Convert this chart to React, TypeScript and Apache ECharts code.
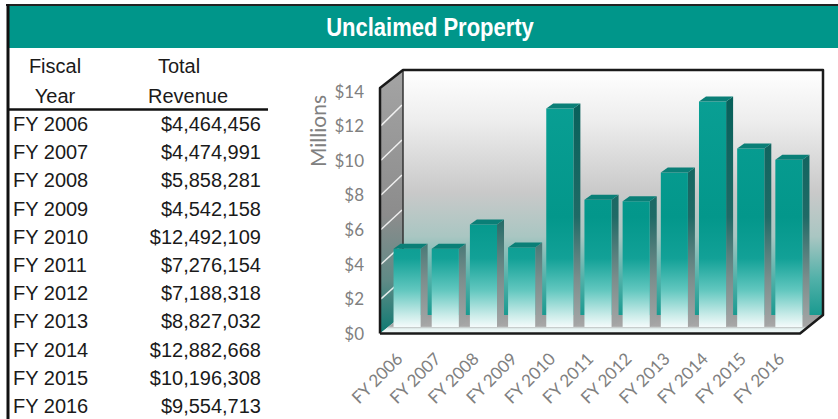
import React, { useEffect, useRef } from 'react';
import * as echarts from 'echarts';

// ---- data ----
const categories = ['FY 2006', 'FY 2007', 'FY 2008', 'FY 2009', 'FY 2010', 'FY 2011', 'FY 2012', 'FY 2013', 'FY 2014', 'FY 2015', 'FY 2016'];
const revenue = [4464456, 4474991, 5858281, 4542158, 12492109, 7276154, 7188318, 8827032, 12882668, 10196308, 9554713];
const yMin = 0;
const yMax = 14;
const yInterval = 2;
const yTickValues = [0, 2, 4, 6, 8, 10, 12, 14];
const title = 'Unclaimed Property';
const tableHeader = [['Fiscal', 'Year'], ['Total', 'Revenue']];
const yAxisName = 'Millions';

// ---- layout ----
const TEAL = '#00968a';
const FRONT = { left: 380, top: 91, width: 420, bottom: 333.5 };
const BARS = { left: 388, top: 82, width: 420, bottom: 327 };
const BACK = { left: 403, top: 70, width: 420, bottom: 315 };
const WALL_FRONT_TOP = 88;

const fmtMoney = (n: number) => '$' + n.toLocaleString('en-US');

export default function App() {
  const ref = useRef<HTMLDivElement>(null);
  useEffect(() => {
    const chart = echarts.init(ref.current!, null, { renderer: 'svg' });

    const frontGrad = {
      type: 'linear', x: 0, y: BARS.top, x2: 0, y2: BARS.bottom, global: true,
      colorStops: [
        { offset: 0, color: '#0aa095' },
        { offset: 0.55, color: '#03978b' },
        { offset: 0.72, color: '#12a197' },
        { offset: 0.85, color: '#62c7bf' },
        { offset: 0.95, color: '#c8ebe8' },
        { offset: 1, color: '#f4fbfb' },
      ],
    };
    const sideGrad = {
      type: 'linear', x: 0, y: BARS.top, x2: 0, y2: BARS.bottom, global: true,
      colorStops: [
        { offset: 0, color: '#045f59' },
        { offset: 0.55, color: '#1f6a66' },
        { offset: 0.8, color: '#7a8d8c' },
        { offset: 1, color: '#a6a6a6' },
      ],
    };

    const labelFont = { fontFamily: 'Lato', fontSize: 17, color: '#808080' };

    chart.setOption({
      animation: false,
      grid: [
        { left: FRONT.left, top: FRONT.top, width: FRONT.width, height: FRONT.bottom - FRONT.top },
        { left: BARS.left, top: BARS.top, width: BARS.width, height: BARS.bottom - BARS.top },
        {
          left: BACK.left, top: BACK.top, width: BACK.width, height: BACK.bottom - BACK.top,
          show: true, borderWidth: 0, z: 0,
          backgroundColor: {
            type: 'linear', x: 0, y: 0, x2: 0, y2: 1,
            colorStops: [
              { offset: 0, color: '#ffffff' },
              { offset: 0.2, color: '#eeeeee' },
              { offset: 0.5, color: '#c9c9c9' },
              { offset: 0.68, color: '#a9c6c2' },
              { offset: 0.85, color: '#52b1a9' },
              { offset: 1, color: '#1a9a90' },
            ],
          },
        },
      ],
      xAxis: [
        {
          gridIndex: 0, type: 'category', data: categories,
          axisLine: { show: false }, axisTick: { show: false },
          axisLabel: { ...labelFont, rotate: 45, interval: 0, margin: 22 },
        },
        { gridIndex: 1, type: 'category', data: categories, show: false },
        { gridIndex: 2, type: 'category', data: categories, show: false },
      ],
      yAxis: [
        {
          gridIndex: 0, type: 'value', min: yMin, max: yMax, interval: yInterval,
          axisLine: { show: false }, axisTick: { show: false }, splitLine: { show: false },
          axisLabel: { ...labelFont, margin: 16, formatter: (v: number) => '$' + v },
        },
        { gridIndex: 1, type: 'value', min: yMin, max: yMax, interval: yInterval, show: false },
        {
          gridIndex: 2, type: 'value', min: yMin, max: yMax, interval: yInterval, z: 1,
          axisLine: { show: false }, axisTick: { show: false }, axisLabel: { show: false },
          splitLine: {
            show: true,
            lineStyle: { color: 'rgba(255,255,255,0.9)', width: 2, shadowColor: 'rgba(0,0,0,0.35)', shadowBlur: 1, shadowOffsetY: -1 },
          },
        },
      ],
      series: [
        {
          type: 'custom', xAxisIndex: 1, yAxisIndex: 1, z: 5,
          data: categories.map((c, i) => [i, revenue[i] / 1e6]),
          encode: { x: 0, y: 1 },
          renderItem: (params: any, api: any) => {
            const idx = api.value(0);
            const v = api.value(1);
            const top = api.coord([idx, v]);
            const base = api.coord([idx, 0]);
            const band = api.size([1, 0])[0];
            const w = band * 0.71;
            const x0 = top[0] - w / 2;
            const x1 = x0 + w;
            const yt = top[1];
            const yb = base[1];
            const dx = 7, dy = -5;
            return {
              type: 'group',
              children: [
                { type: 'polygon', shape: { points: [[x1, yt], [x1 + dx, yt + dy], [x1 + dx, yb + dy], [x1, yb]] }, style: { fill: sideGrad } },
                { type: 'rect', shape: { x: x0, y: yt, width: w, height: yb - yt }, style: { fill: frontGrad } },
                { type: 'polygon', shape: { points: [[x0, yt], [x0 + dx, yt + dy], [x1 + dx, yt + dy], [x1, yt]] }, style: { fill: '#0a7f77' } },
              ],
            };
          },
        },
      ],
    });

    // walls & table graphics
    const g: any[] = [];
    // header
    g.push({ type: 'rect', z: 1, shape: { x: 7, y: 6, width: 831, height: 42 }, style: { fill: TEAL } });
    g.push({ type: 'line', z: 2, shape: { x1: 6, y1: 5, x2: 838, y2: 5 }, style: { stroke: '#222', lineWidth: 2 } });
    g.push({ type: 'line', z: 2, shape: { x1: 8, y1: 4, x2: 8, y2: 419 }, style: { stroke: '#111', lineWidth: 3 } });
    g.push({
      type: 'text', z: 3, x: 430, y: 28, scaleX: 0.88,
      style: { text: title, fill: '#ffffff', font: "bold 25px 'Liberation Sans', Arial", align: 'center', verticalAlign: 'middle' },
    });
    // table header
    const tf = "20px 'Liberation Sans', Arial";
    g.push({ type: 'text', z: 3, x: 55, y: 66, style: { text: tableHeader[0][0], fill: '#1a1a1a', font: tf, align: 'center', verticalAlign: 'middle' } });
    g.push({ type: 'text', z: 3, x: 55, y: 96, style: { text: tableHeader[0][1], fill: '#1a1a1a', font: tf, align: 'center', verticalAlign: 'middle' } });
    g.push({ type: 'text', z: 3, x: 179, y: 66, style: { text: tableHeader[1][0], fill: '#1a1a1a', font: tf, align: 'center', verticalAlign: 'middle' } });
    g.push({ type: 'text', z: 3, x: 188, y: 96, style: { text: tableHeader[1][1], fill: '#1a1a1a', font: tf, align: 'center', verticalAlign: 'middle' } });
    g.push({ type: 'line', z: 2, shape: { x1: 8, y1: 109.5, x2: 268, y2: 109.5 }, style: { stroke: '#111', lineWidth: 2.5 } });
    categories.forEach((c, i) => {
      const y = 124 + i * 28.2;
      g.push({ type: 'text', z: 3, x: 13, y, style: { text: c, fill: '#1a1a1a', font: tf, align: 'left', verticalAlign: 'middle' } });
      g.push({ type: 'text', z: 3, x: 261, y, style: { text: fmtMoney(revenue[i]), fill: '#1a1a1a', font: tf, align: 'right', verticalAlign: 'middle' } });
    });
    // Millions
    g.push({
      type: 'text', z: 3, x: 317, y: 131, rotation: Math.PI / 2,
      style: { text: yAxisName, fill: '#808080', font: "21px Lato", align: 'center', verticalAlign: 'middle' },
    });
    // left wall
    const fl = FRONT.left, fr = FRONT.left + FRONT.width, fb = FRONT.bottom;
    const bl = BACK.left, br = BACK.left + BACK.width, bt = BACK.top, bb = BACK.bottom;
    g.push({
      type: 'polygon', z: 1,
      shape: { points: [[fl, WALL_FRONT_TOP], [bl, bt], [bl, bb], [fl, fb]] },
      style: {
        fill: {
          type: 'linear', x: 0, y: bt, x2: 0, y2: fb, global: true,
          colorStops: [
            { offset: 0, color: '#a4a4a4' },
            { offset: 0.55, color: '#8c8c8c' },
            { offset: 0.8, color: '#5f8a86' },
            { offset: 1, color: '#0e7a72' },
          ],
        },
      },
    });
    yTickValues.forEach((v) => {
      if (v === yMin || v === yMax) return;
      const yf = chart.convertToPixel({ yAxisIndex: 0 }, v) as number;
      const yb = chart.convertToPixel({ yAxisIndex: 2 }, v) as number;
      g.push({ type: 'line', z: 2, shape: { x1: fl + 1, y1: yf, x2: bl - 1, y2: yb }, style: { stroke: 'rgba(255,255,255,0.85)', lineWidth: 1.5 } });
    });
    // floor
    g.push({
      type: 'polygon', z: 1,
      shape: { points: [[fl, fb], [fr, fb], [br, bb], [bl, bb]] },
      style: {
        fill: {
          type: 'linear', x: 0, y: bb, x2: 0, y2: fb, global: true,
          colorStops: [
            { offset: 0, color: '#9c9c9c' },
            { offset: 0.6, color: '#a8a8a8' },
            { offset: 0.75, color: '#e6f3f2' },
            { offset: 1, color: '#f2f9f9' },
          ],
        },
      },
    });
    // outlines
    g.push({ type: 'line', z: 2, shape: { x1: bl, y1: bt, x2: bl, y2: bb }, style: { stroke: '#333', lineWidth: 1.5 } });
    g.push({
      type: 'polyline', z: 10,
      shape: { points: [[fl, fb], [fl, WALL_FRONT_TOP], [bl, bt], [br, bt], [br, bb], [fr, fb], [fl, fb]] },
      style: { stroke: '#1a1a1a', lineWidth: 2.5, fill: null, lineJoin: 'round' },
    });

    chart.setOption({ graphic: g });
    return () => chart.dispose();
  }, []);
  return <div ref={ref} style={{ position: 'absolute', left: 0, top: 0, width: 838, height: 419 }} />;
}
